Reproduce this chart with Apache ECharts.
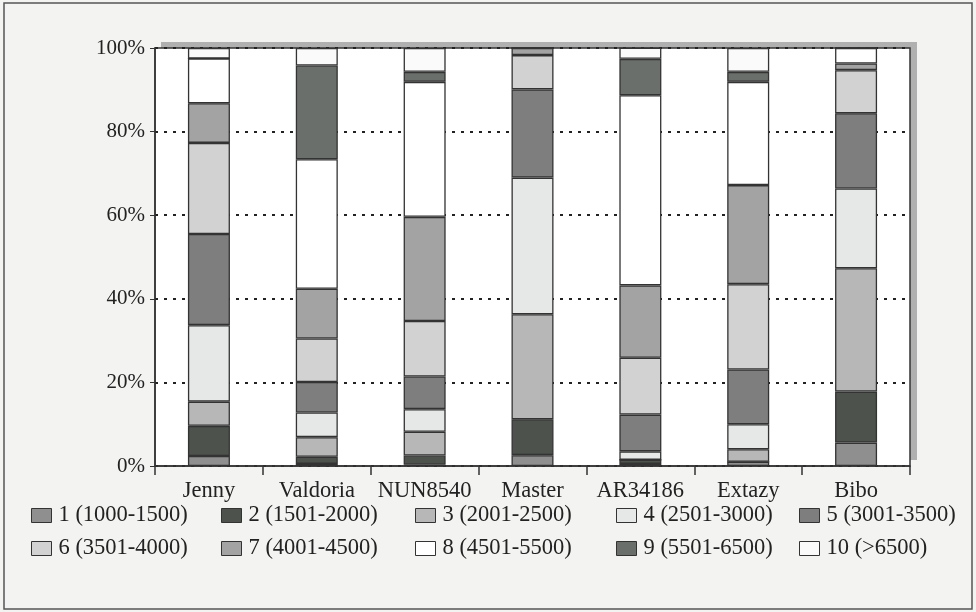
<!DOCTYPE html>
<html>
<head>
<meta charset="utf-8">
<script src="https://cdn.jsdelivr.net/npm/echarts@6/dist/echarts.min.js"></script>
<style>
html,body{margin:0;padding:0;background:#f3f3f2;}
#c{width:976px;height:612px;}
</style>
</head>
<body>
<div id="c"></div>
<script>
const categories = ['Jenny','Valdoria','NUN8540','Master','AR34186','Extazy','Bibo'];
const seriesNames = ['1 (1000-1500)','2 (1501-2000)','3 (2001-2500)','4 (2501-3000)','5 (3001-3500)',
                     '6 (3501-4000)','7 (4001-4500)','8 (4501-5500)','9 (5501-6500)','10 (>6500)'];
const s1  = [2.4, 0.5, 0.3, 2.6, 0.5, 1.0, 5.6];
const s2  = [7.2, 1.7, 2.2, 8.6, 1.0, 0.0, 12.2];
const s3  = [5.8, 4.7, 5.7, 25.1, 0.0, 3.0, 29.5];
const s4  = [18.3, 5.9, 5.4, 32.7, 2.0, 6.0, 19.1];
const s5  = [21.8, 7.3, 7.8, 21.1, 8.8, 13.1, 18.0];
const s6  = [21.8, 10.4, 13.3, 8.2, 13.6, 20.4, 10.3];
const s7  = [9.5, 11.9, 24.9, 1.7, 17.3, 23.7, 1.6];
const s8  = [10.7, 31.0, 32.3, 0.0, 45.5, 24.7, 3.7];
const s9  = [0.0, 22.4, 2.4, 0.0, 8.7, 2.4, 0.0];
const s10 = [2.5, 4.2, 5.7, 0.0, 2.7, 5.7, 0.0];
const yTicks = [0, 20, 40, 60, 80, 100];

const values = [s1,s2,s3,s4,s5,s6,s7,s8,s9,s10];
const colors = ['#8f8f8f','#4d524d','#b7b7b7','#e6e8e8','#7e7e7e','#d2d2d2','#a3a3a3','#ffffff','#6b6f6b','#fafafa'];
const font = "'Liberation Serif', 'Times New Roman', serif";

const chart = echarts.init(document.getElementById('c'));
const series = seriesNames.map((n,i)=>({
  name:n, type:'bar', stack:'all', barWidth:42,
  data: values[i],
  itemStyle:{color:colors[i], borderColor:'#333', borderWidth:1.3},
  emphasis:{disabled:true}
}));
const cols = [26,216,410,611,794];
const legends = cols.map((x,i)=>({
  data:[seriesNames[i], seriesNames[i+5]],
  orient:'vertical', left:x, top:499, itemGap:10,
  itemWidth:20, itemHeight:14, icon:'rect',
  itemStyle:{borderColor:'#333', borderWidth:1},
  textStyle:{fontFamily:font, fontSize:22.5, color:'#222', padding:[0,0,0,2]},
  selectedMode:false
}));
chart.setOption({
  backgroundColor:'#f3f3f2',
  animation:false,
  graphic:[
    {type:'rect', shape:{x:4,y:3,width:968,height:606}, style:{fill:'none', stroke:'#555', lineWidth:1.5}, z:-20},
    {type:'rect', shape:{x:161,y:42,width:756,height:418}, style:{fill:'#b0b0b0'}, z:-10}
  ],
  grid:{left:155, right:66, top:48, bottom:146, show:true, backgroundColor:'#fff',
        borderColor:'#333', borderWidth:1.5},
  legend:legends,
  xAxis:{type:'category', data:categories,
    axisLine:{lineStyle:{color:'#333', width:1.5}},
    axisTick:{show:true, length:9, lineStyle:{color:'#333', width:1.5}},
    axisLabel:{fontFamily:font, fontSize:22.5, color:'#222', margin:14, interval:0}},
  yAxis:{type:'value', min:yTicks[0], max:yTicks[yTicks.length-1], interval:20,
    axisLine:{show:true, lineStyle:{color:'#333', width:1.5}},
    axisTick:{show:true, length:5, lineStyle:{color:'#333'}},
    axisLabel:{fontFamily:font, fontSize:21, color:'#222', margin:10, formatter:'{value}%'},
    splitLine:{show:true, lineStyle:{type:[3,6], color:'#222', width:1.8}}},
  series:series
});
</script>
</body>
</html>
